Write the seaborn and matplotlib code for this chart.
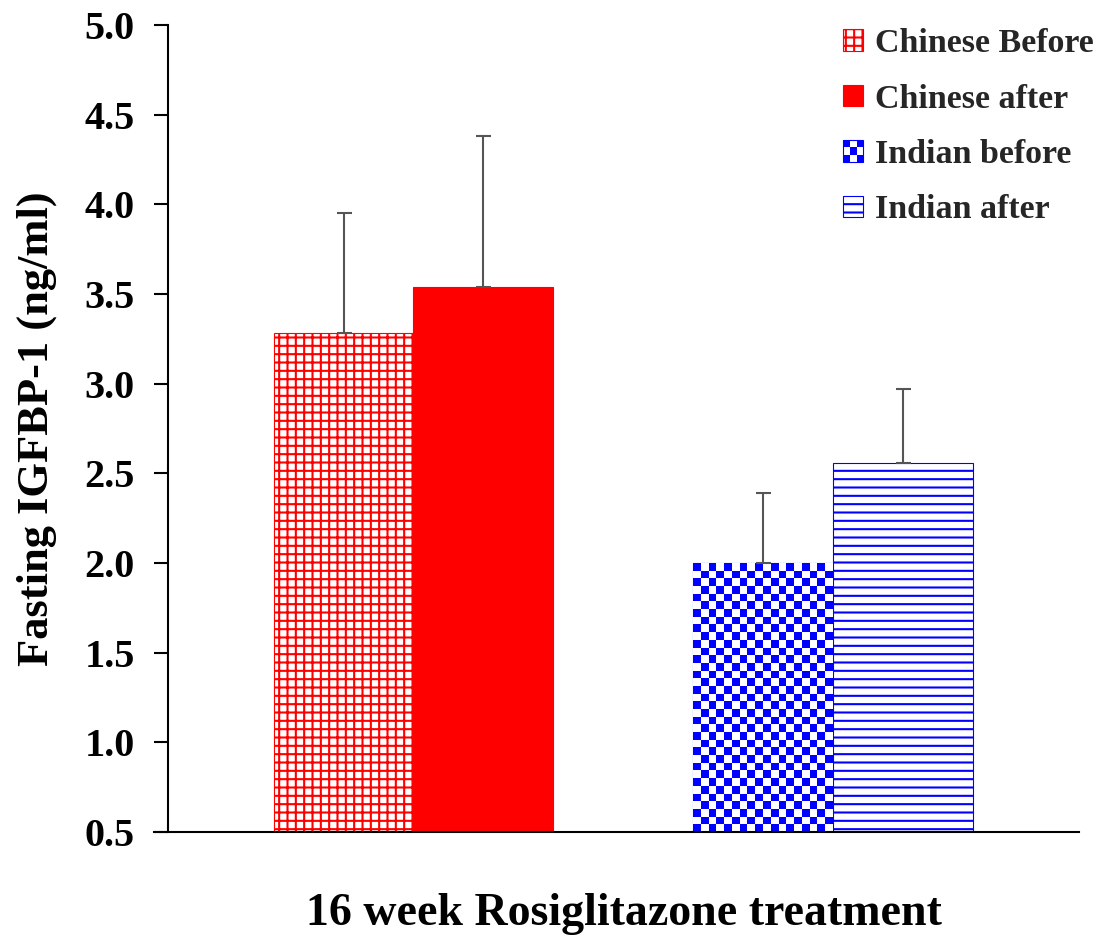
import numpy as np
import pandas as pd
import matplotlib
matplotlib.use("Agg")
import matplotlib.pyplot as plt
import seaborn as sns
from matplotlib.colors import ListedColormap
from matplotlib.patches import Patch, Rectangle
from matplotlib.legend_handler import HandlerBase

# Fasting IGFBP-1 before/after rosiglitazone, mean with upper SE
groups = ["Chinese", "Chinese", "Indian", "Indian"]
timepoints = ["before", "after", "before", "after"]
means = [3.28, 3.54, 2.00, 2.56]
errors = [0.67, 0.84, 0.39, 0.41]
legend_labels = ["Chinese Before", "Chinese after", "Indian before", "Indian after"]
yticks = [0.5, 1.0, 1.5, 2.0, 2.5, 3.0, 3.5, 4.0, 4.5, 5.0]
group_order = ["Chinese", "Indian"]
time_order = ["before", "after"]

RED = "#FF0000"
BLUE = "#0000FF"

sns.set_theme(style="white")
plt.rcParams["font.family"] = ["Liberation Serif", "DejaVu Serif"]
plt.rcParams["font.weight"] = "bold"
plt.rcParams["axes.labelweight"] = "bold"
plt.rcParams["hatch.linewidth"] = 1.5

df = pd.DataFrame({"group": groups, "time": timepoints, "value": means})

fig = plt.figure(figsize=(11.05, 9.36), dpi=100)
ax = fig.add_axes([168 / 1105, 1 - 832 / 936, 911 / 1105, 807 / 936])

sns.barplot(data=df, x="group", y="value", hue="time", order=group_order,
            hue_order=time_order, width=0.667, errorbar=None, legend=False,
            saturation=1, ax=ax)

XLIM = (-0.585, 1.586)
YLIM = (0.5, 5.0)
ax.set_xlim(*XLIM)
ax.set_ylim(*YLIM)

# style of each bar: (face, edge, hatch, checker fill)
styles = {
    ("Chinese", "before"): ("white", RED, "++", False),
    ("Chinese", "after"): (RED, RED, None, False),
    ("Indian", "before"): ("white", BLUE, None, True),
    ("Indian", "after"): ("white", BLUE, "--", False),
}

checker_cmap = ListedColormap(["white", BLUE])
cell_px = 7.75
for hi, t in enumerate(time_order):
    for gi, g in enumerate(group_order):
        bar = ax.containers[hi][gi]
        idx = [i for i in range(len(means)) if groups[i] == g and timepoints[i] == t][0]
        face, edge, hatch, checker = styles[(g, t)]
        bar.set_facecolor(face)
        bar.set_edgecolor(edge)
        bar.set_linewidth(0.8)
        if hatch:
            bar.set_hatch(hatch)
        x0 = bar.get_x()
        x1 = x0 + bar.get_width()
        h = bar.get_height()
        if checker:
            p0 = ax.transData.transform((x0, YLIM[0]))
            p1 = ax.transData.transform((x1, h))
            ncols = max(1, int(round((p1[0] - p0[0]) / cell_px)))
            nrows = max(1, int(round((p1[1] - p0[1]) / cell_px)))
            r, c = np.mgrid[0:nrows, 0:ncols]
            pattern = ((r + c) % 2 == 0).astype(float)
            ax.imshow(pattern, extent=(x0, x1, YLIM[0], h), cmap=checker_cmap,
                      vmin=0, vmax=1, interpolation="nearest", aspect="auto",
                      zorder=bar.get_zorder() + 0.05)
        ax.errorbar(x0 + bar.get_width() / 2, h, yerr=[[0], [errors[idx]]],
                    fmt="none", ecolor="#555555", elinewidth=1.5, capsize=5.4,
                    capthick=1.5, zorder=3)

ax.set_xlim(*XLIM)
ax.set_ylim(*YLIM)
ax.set_yticks(yticks)
ax.set_yticklabels([f"{v:.1f}" for v in yticks])
ax.set_xticks([])

for side in ("top", "right"):
    ax.spines[side].set_visible(False)
for side in ("left", "bottom"):
    ax.spines[side].set_color("black")
    ax.spines[side].set_linewidth(1.5)
ax.spines["bottom"].set_bounds(XLIM[0] - 14 / 419.5, XLIM[1])

ax.tick_params(axis="y", direction="out", left=True, length=10, width=1.5,
               pad=14, labelsize=29, colors="black")

ax.set_ylabel("Fasting IGFBP-1 (ng/ml)", fontsize=32, fontweight="bold",
              labelpad=20, color="black")
ax.set_xlabel("16 week Rosiglitazone treatment", fontsize=33,
              fontweight="bold", labelpad=44, color="black")


class CheckerHandler(HandlerBase):
    """Legend key drawn as a small 3x3 checkerboard."""

    def create_artists(self, legend, orig_handle, xdescent, ydescent,
                       width, height, fontsize, trans):
        n = 3
        cw, ch = width / n, height / n
        arts = []
        for i in range(n):
            for j in range(n):
                col = BLUE if (i + j) % 2 == 0 else "white"
                arts.append(Rectangle((-xdescent + i * cw, -ydescent + j * ch),
                                      cw, ch, facecolor=col, edgecolor="none",
                                      transform=trans))
        arts.append(Rectangle((-xdescent, -ydescent), width, height,
                              facecolor="none", edgecolor=BLUE, lw=0.8,
                              transform=trans))
        return arts


checker_proxy = Patch(facecolor="white", edgecolor=BLUE)
handles = [
    Patch(facecolor="white", edgecolor=RED, hatch="++", lw=0.8),
    Patch(facecolor=RED, edgecolor=RED, lw=0.8),
    checker_proxy,
    Patch(facecolor="white", edgecolor=BLUE, hatch="--", lw=0.8),
]
ax.legend(handles, legend_labels, handler_map={checker_proxy: CheckerHandler()},
          loc="upper right", bbox_to_anchor=(1094 / 1105, 1 - 28 / 936),
          bbox_transform=fig.transFigure, frameon=False,
          prop={"family": "Liberation Serif", "weight": "bold", "size": 24.5},
          handlelength=0.6, handleheight=0.6, handletextpad=0.35,
          labelspacing=0.72, borderpad=0, borderaxespad=0)

fig.savefig("out.png", dpi=100, facecolor="white")
